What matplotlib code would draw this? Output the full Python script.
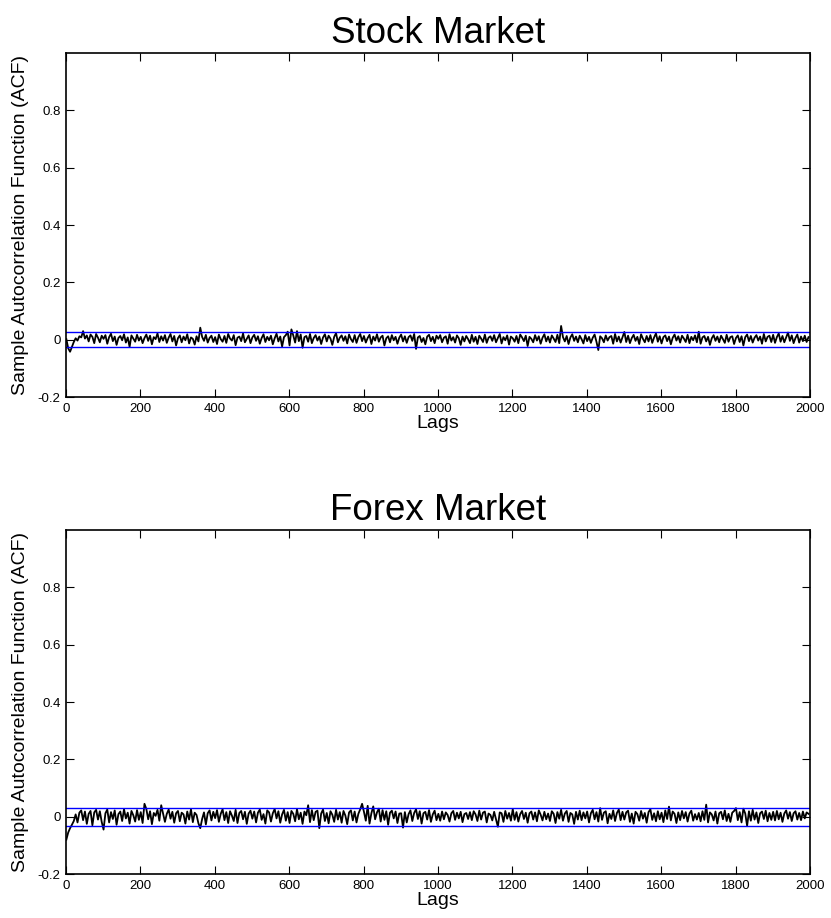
import numpy as np
import matplotlib.pyplot as plt
from matplotlib.ticker import FormatStrFormatter

plt.rcParams['font.family'] = ['Liberation Sans', 'DejaVu Sans']

# lags sampled every 5 from 1 to 1996
lags = list(range(1, 2000, 5))

# sample ACF values, in thousandths
stock_acf_milli = [
    2, -30, -42, -25, -8, 5, -3, 12, 8, 30, 4, 15, -6, 18, 10, -12, 20, 7, -9, 14,
    3, 16, -14, 9, 21, -5, 11, -18, 6, 13, -2, 19, -10, 8, -25, 15, 4, -7, 17, -3,
    10, -12, 6, 18, -4, 14, -16, 9, 2, 22, -8, 12, -3, 16, -11, 7, 20, -6, 13, -20,
    5, 15, -9, 11, -2, 19, -13, 8, 3, -17, 12, -6, 42, 10, -4, 17, -10, 6, 14, -8,
    9, -15, 18, 2, -7, 13, -11, 20, 4, -3, 16, -19, 7, 11, -5, 22, -9, 3, 15, -12,
    8, 17, -4, 12, -14, 6, 19, -8, 10, -2, 14, -16, 5, 21, -6, 11, -24, 9, 16, 28,
    -20, 36, 15, -10, 30, -5, 18, -28, 9, 13, -7, 20, -12, 6, 16, -3, 11, -15, 8, 19,
    -6, 14, 4, -18, 10, 23, -9, 7, 15, -4, 12, -13, 18, 2, -8, 16, -11, 9, 20, -5,
    13, -10, 6, 17, -15, 11, -3, 19, -7, 8, 14, -20, 5, 12, -9, 16, -2, 10, -14, 7,
    18, -6, 12, -11, 9, 15, -4, 20, -32, 8, 13, -8, 6, -16, 11, 17, -5, 10, -12, 14,
    3, 16, -9, 7, 12, -14, 19, -3, 9, -10, 15, 5, -18, 11, -6, 13, 2, -12, 17, -7,
    10, -15, 14, 4, -8, 18, -11, 7, 12, -4, 16, -9, 6, 20, -13, 9, -2, 15, -17, 11,
    5, -7, 13, -12, 18, 8, -5, 14, -22, 10, 3, -9, 16, -3, 12, -14, 7, 19, -6, 11,
    -10, 15, 4, -8, 17, -12, 48, 9, -6, 13, -15, 8, 19, -4, 11, -9, 14, 2, -13, 16,
    -5, 10, -11, 7, 18, -7, -36, 12, 5, -9, 15, -3, 9, 13, -14, 20, -6, 11, -10, 8,
    27, -8, 14, -12, 6, 17, -4, 10, -15, 19, 3, -9, 13, -6, 16, -11, 8, 22, -7, 12,
    -13, 9, 15, -5, 11, -16, 7, 18, -3, 12, -10, 14, 4, -8, 17, -12, 10, -2, 15, -9,
    28, -14, 8, 13, -6, 10, -18, 5, 16, -4, 11, -9, 14, 2, -11, 17, -7, 9, 12, -15,
    6, 15, -8, 12, -20, 9, 18, -5, 13, -10, 7, 16, -3, 11, -14, 20, -6, 10, 14, -8,
    17, -11, 9, 22, -7, 13, -9, 8, 25, -4, 15, -12, 6, 18, -10, 11, -5, 14, -8, 9,
]

forex_acf_milli = [
    -80, -55, -40, -28, -15, 8, -20, 14, 22, -12, 18, -25, 10, 20, -30, 15, 24, -10, 19, -18,
    -45, 12, 25, -20, 16, -8, 22, -28, 9, 18, -15, 26, -6, 14, -24, 20, 5, -17, 23, -11,
    16, -22, 45, 27, -9, 19, -26, 13, 3, 24, -14, 40, 11, -18, 10, 25, -7, 17, -21, 12,
    20, -16, 14, 8, -24, 18, -10, 26, -19, 14, 6, -23, -40, -8, 15, -27, 12, 22, -13, 17,
    -5, 23, -18, 10, 26, -12, 16, -22, 19, 4, -15, 24, -22, 13, 20, -9, 17, -25, 11, 21,
    -7, 18, -20, 14, 25, -11, 9, -24, 22, 15, -17, 12, 27, -6, 19, -21, 8, 24, -14, 16,
    -22, 20, 10, -16, 26, -9, 14, -25, 18, 5, 40, -19, 23, -12, 17, 21, -40, 11, 25, -15,
    13, -23, 19, 7, -18, 24, -10, 16, -21, 20, 4, -26, 15, 22, -13, 18, -20, 10, 26, 45,
    17, -14, 38, -24, 12, 36, -9, 15, 28, -17, 23, -11, 19, -28, 14, 21, -6, 18, -22, 11,
    12, -38, 16, -20, 9, 22, -15, 13, 26, -8, 19, -24, 12, 17, -10, 23, -18, 8, 21, -12,
    10, -14, 18, -9, 15, 6, -17, 12, 20, -11, 14, -6, 17, -19, 9, 13, -8, 16, -12, 19,
    8, -15, 21, -10, 14, 18, -20, 11, 6, -13, 17, -9, -35, 15, 12, -18, 20, -7, 13, -14,
    26, -11, 16, -17, 9, 20, -8, 14, -21, 12, 18, -10, 15, -16, 22, 7, -13, 17, -9, 11,
    -15, 19, 10, -22, 16, -7, 24, -14, 11, 20, -18, 13, 8, -25, 17, -10, 21, -12, 15, -6,
    18, -20, 12, 24, -9, 16, -17, 30, -11, 14, 19, -23, 10, -8, 22, -15, 13, 25, -12, 17,
    -10, 15, 21, -18, 11, -24, 17, 9, -14, 20, -7, 13, -21, 16, 26, -11, 12, -16, 19, -9,
    14, -19, 22, -8, 35, -13, 18, 10, -22, 15, -12, 20, -6, 16, -17, 11, 21, -14, 9, -10,
    13, -16, 19, -11, 42, -20, 15, 8, -13, 18, -24, 12, 17, -9, 22, -15, 10, -18, 14, 20,
    30, -12, 16, -20, 28, 11, -32, 19, -14, 24, -10, 15, -22, 12, 18, -8, 21, -16, 13, -11,
    17, -13, 20, -9, 14, -18, 11, 22, -7, 16, -15, 12, 19, -10, 13, -12, 18, -6, 15, 10,
]

titles = ['Stock Market', 'Forex Market']
bounds = [0.026, 0.031]
x_ticks = list(range(0, 2001, 200))
y_ticks = [-0.2, 0, 0.2, 0.4, 0.6, 0.8]

fig = plt.figure(figsize=(8.31, 9.18), dpi=100)
ax_top = fig.add_axes([0.0794, 0.5675, 0.8953, 0.3747])
ax_bot = fig.add_axes([0.0794, 0.0479, 0.8953, 0.3747])

for ax, title, acf_milli, bound in zip([ax_top, ax_bot], titles,
                                        [stock_acf_milli, forex_acf_milli], bounds):
    acf = np.array(acf_milli) / 1000.0
    ax.plot(lags, acf, color='black', linewidth=1.3)
    ax.axhline(bound, color='#0000ff', linewidth=1.0)
    ax.axhline(-bound, color='#0000ff', linewidth=1.0)

    ax.set_xlim(0, 2000)
    ax.set_ylim(-0.2, 1.0)
    ax.set_xticks(x_ticks)
    ax.set_yticks(y_ticks)
    ax.yaxis.set_major_formatter(FormatStrFormatter('%g'))
    ax.tick_params(direction='in', length=6, width=0.8, top=True, right=True,
                   labelsize=9.5, pad=4)
    for spine in ax.spines.values():
        spine.set_linewidth(1.2)

    ax.set_title(title, fontsize=26.5, pad=7)
    ax.set_xlabel('Lags', fontsize=14, labelpad=0)
    ax.set_ylabel('Sample Autocorrelation Function (ACF)', fontsize=14, labelpad=6)

fig.savefig('out.png', dpi=100)
